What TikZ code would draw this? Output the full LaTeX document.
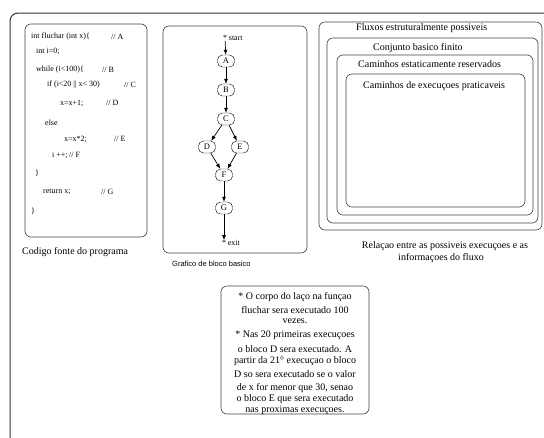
\documentclass[tikz,border=0pt]{standalone}
\usepackage{fontspec}
\setmainfont{Liberation Serif}
\setsansfont{Liberation Sans}
\usetikzlibrary{arrows.meta}

\begin{document}
\begin{tikzpicture}[x=1pt, y=-1pt,
    box/.style={draw=black!75, rounded corners=6pt, line width=0.6pt},
    blk/.style={draw, rounded corners=5pt, minimum width=17pt, minimum height=12pt, inner sep=1pt, font=\fontsize{8.5}{9}\selectfont},
    code/.style={anchor=west, inner sep=0pt, font=\fontsize{8}{9}\selectfont},
    txt/.style={inner sep=0pt, font=\fontsize{10}{12}\selectfont},
    arr/.style={-{Latex[length=5pt,width=4pt]}, line width=0.7pt}]
    \useasboundingbox (0,0) rectangle (544,437);

    % outer frame
    \draw[draw=black!80, line width=1pt, rounded corners=8pt] (548,13) -- (10,13) -- (10,441);

    % source code
    \draw[box] (25,24) rectangle (147,237);
    \foreach \x/\y/\t [count=\i] in {31/37/{int fluchar (int x)\{}, 36/51/{int i=0;},
        36/70/{while (i<100)\{}, 47/85/{if (i<20 || x< 30)}, 60/103/{x=x+1;},
        45/123/{else}, 64/139/{x=x*2;}, 52/155/{i ++;}, 35/173/{\}},
        43/192/{return x;}, 31/211/{\}}} {
        \node[code] (L\i) at (\x,\y) {\t};
    }
    \foreach \x/\y/\t [count=\i] in {111/37/A, 102/70/B, 124/85/C, 106/103/D,
        114/139/E, 69/155/F, 101/192/G} {
        \node[code] (K\i) at (\x,\y) {// \t};
    }
    \node[txt, anchor=west] (capcode) at (22,252) {Codigo fonte do programa};

    % basic block graph
    \draw[box] (163,26) rectangle (307,253);
    \node[inner sep=0pt, font=\fontsize{8}{9}\selectfont,
        label={[font=\fontsize{8}{9}\selectfont, inner sep=1.5pt]right:start}] (st) at (225,38) {*};
    \node[blk] (A) at (226,61) {A};
    \node[blk] (B) at (226,90) {B};
    \node[blk] (C) at (226,119) {C};
    \node[blk] (D) at (207,147) {D};
    \node[blk] (E) at (240,147) {E};
    \node[blk] (F) at (224,175) {F};
    \node[blk] (G) at (224,208) {G};
    \node[inner sep=0pt, font=\fontsize{8}{9}\selectfont,
        label={[font=\fontsize{8}{9}\selectfont, inner sep=1.5pt]right:exit}] (ex) at (224,243) {*};

    \draw[arr] (st) -- (A);
    \draw[arr] (A) -- (B);
    \draw[arr] (B) -- (C);
    \draw[arr] (C) -- (D);
    \draw[arr] (C) -- (E);
    \draw[arr] (D) -- (F);
    \draw[arr] (E) -- (F);
    \draw[arr] (F) -- (G);
    \draw[arr] (G) -- (ex);
    \node[inner sep=0pt, anchor=west, font=\sffamily\fontsize{7.5}{9}\selectfont] (capgraph) at (172,264) {Grafico de bloco basico};

    % nested sets
    \draw[box] (319,22) rectangle (542,230);
    \draw[box] (327,38) rectangle (538,223);
    \draw[box] (337,55) rectangle (533,215);
    \draw[box] (346,74) rectangle (525,207);
    \node[txt, anchor=west] (s1) at (356,28) {Fluxos estruturalmente possiveis};
    \node[txt, anchor=west] (s2) at (373,48) {Conjunto basico finito};
    \node[txt, anchor=west] (s3) at (358,64) {Caminhos estaticamente reservados};
    \node[txt, anchor=west] (s4) at (363,86) {Caminhos de execuçoes praticaveis};
    \node[txt] (capsets1) at (445,246) {Relaçao entre as possiveis execuçoes e as};
    \node[txt] (capsets2) at (441,258) {informaçoes do fluxo};

    % note
    \draw[box] (221,286) rectangle (369,414);
    \foreach \y/\t [count=\i] in {297/{* O corpo do laço na funçao}, 310/{fluchar sera executado 100},
        321/{vezes.}, 335/{* Nas 20 primeiras execuçoes}, 349/{o bloco D sera executado. A},
        361/{partir da 21° execuçao o bloco}, 374/{D so sera executado se o valor},
        388/{de x for menor que 30, senao}, 399/{o bloco E que sera executado},
        410/{nas proximas execuçoes.}} {
        \node[txt] (N\i) at (295,\y) {\t};
    }
\end{tikzpicture}
\end{document}
